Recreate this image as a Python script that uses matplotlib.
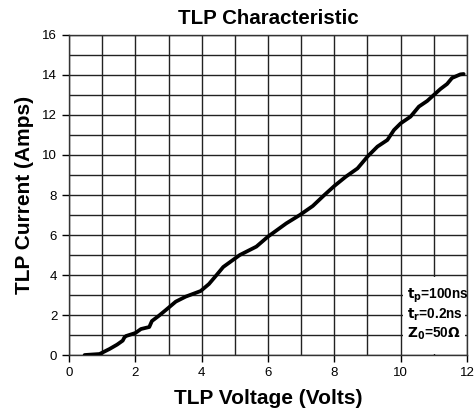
import matplotlib
matplotlib.use('Agg')
import matplotlib.pyplot as plt
from matplotlib.patches import Rectangle

plt.rcParams['font.family'] = ['Liberation Sans', 'DejaVu Sans']

# TLP curve
voltage = [0.47, 0.92, 1.22, 1.45, 1.62, 1.67, 1.72, 2.0, 2.17, 2.42, 2.5, 2.7,
           2.92, 3.22, 3.52, 3.97, 4.22, 4.45, 4.65, 4.9, 5.15, 5.65, 6.0, 6.55, 6.96,
           7.35, 7.7, 8.0, 8.35, 8.7, 9.0, 9.3, 9.6, 9.8, 10.0, 10.3, 10.55,
           10.8, 11.0, 11.2, 11.4, 11.55, 11.8, 11.9]
current = [0.0, 0.05, 0.3, 0.52, 0.72, 0.88, 0.95, 1.1, 1.3, 1.4, 1.7, 1.95,
           2.25, 2.67, 2.92, 3.2, 3.55, 4.0, 4.4, 4.7, 5.0, 5.42, 5.92, 6.58, 7.0,
           7.45, 8.0, 8.45, 8.92, 9.33, 9.92, 10.42, 10.75, 11.25, 11.58, 11.92, 12.42,
           12.7, 13.0, 13.3, 13.55, 13.85, 14.03, 14.05]

notes = [r'$\mathbf{t_p}$=100ns', r'$\mathbf{t_r}$=0.2ns', r'$\mathbf{Z_0}$=50$\mathbf{\Omega}$']

fig = plt.figure(figsize=(4.76, 4.16), dpi=100)
ax = fig.add_axes([0.145, 0.1466, 0.836, 0.7693])

ax.set_xlim(0, 12)
ax.set_ylim(0, 16)
ax.set_xticks(range(0, 13, 2))
ax.set_yticks(range(0, 17, 2))
ax.set_xticks(range(0, 13), minor=True)
ax.set_yticks(range(0, 17), minor=True)
ax.grid(True, which='both', color='#222222', linewidth=1.0)
ax.tick_params(which='major', direction='out', length=5, width=1, labelsize=9.5, color='black')
ax.tick_params(which='minor', length=0)
for s in ax.spines.values():
    s.set_linewidth(1.0)
    s.set_color('#333333')

ax.plot(voltage, current, color='black', linewidth=2.7, solid_capstyle='round',
        solid_joinstyle='round', zorder=3)

# white note box in lower right corner
ax.add_patch(Rectangle((10.08, 0.03), 1.86, 3.87, facecolor='white', edgecolor='none', zorder=2.5))
for i, t in enumerate(notes):
    ax.text(10.2, 2.95 - i * 0.95, t, fontsize=9.8, fontweight='bold', va='center', ha='left', zorder=4)

ax.set_title('TLP Characteristic', fontsize=14.8, fontweight='bold', pad=8)
ax.set_xlabel('TLP Voltage (Volts)', fontsize=15, fontweight='bold', labelpad=7)
ax.set_ylabel('TLP Current (Amps)', fontsize=15, fontweight='bold', labelpad=6)

fig.savefig('out.png', dpi=100)
